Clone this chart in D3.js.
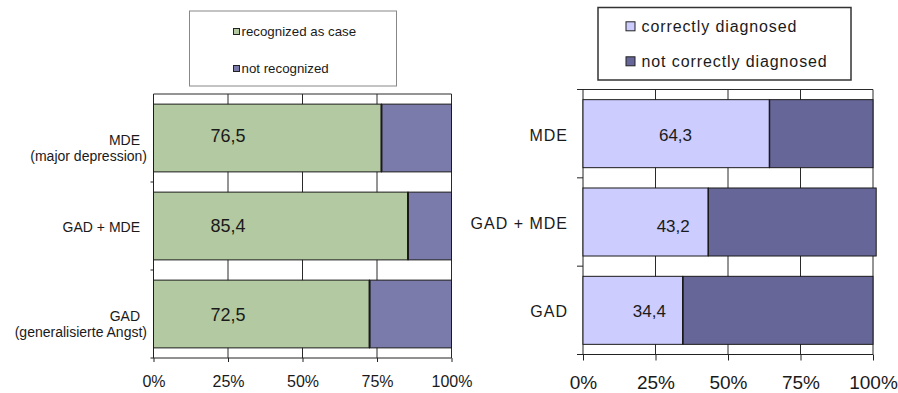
<!DOCTYPE html>
<html>
<head>
<meta charset="utf-8">
<script src="https://cdn.jsdelivr.net/npm/d3@7/dist/d3.min.js"></script>
<style>
  html, body { margin: 0; padding: 0; background: #fff; }
  svg { display: block; }
  text { font-family: "Liberation Sans", Arial, sans-serif; fill: #1a1a1a; }
</style>
</head>
<body>
<svg id="chart" width="898" height="393"></svg>
<script>
// ---- data ----
const leftCategories = [["MDE", "(major depression)"], ["GAD + MDE"], ["GAD", "(generalisierte Angst)"]];
const recognized = [76.5, 85.4, 72.5];
const notRecognized = [23.5, 14.6, 27.5];
const leftLegend = ["recognized as case", "not recognized"];

const rightCategories = [["MDE"], ["GAD + MDE"], ["GAD"]];
const correct = [64.3, 43.2, 34.4];
const notCorrect = [35.7, 57.9, 65.6];
const correctLabelAt = [31.9, 31.1, 22.9];
const rightLegend = ["correctly diagnosed", "not correctly diagnosed"];

const tickValues = [0, 25, 50, 75, 100];
const tickLabels = ["0%", "25%", "50%", "75%", "100%"];

const svg = d3.select("#chart");

function drawPanel(cfg) {
  const g = svg.append("g");
  const x = d3.scaleLinear().domain([0, 100]).range([cfg.x0, cfg.x1]);
  const keys = cfg.cats.map((c, i) => i);
  const y = d3.scaleBand().domain(keys).range([cfg.y0, cfg.y1])
    .paddingInner(0.23).paddingOuter(0.115);
  const step = y.step();

  // vertical gridlines (25..100) spanning the plot
  g.selectAll("line.grid").data(tickValues.slice(1)).join("line")
    .attr("x1", d => x(d)).attr("x2", d => x(d))
    .attr("y1", cfg.y0).attr("y2", cfg.y1)
    .attr("stroke", "#2a2a2a").attr("stroke-width", 1);
  // top border
  g.append("line").attr("x1", x(0) - cfg.topTick).attr("x2", x(100))
    .attr("y1", cfg.y0).attr("y2", cfg.y0).attr("stroke", "#2a2a2a");

  // x axis
  const xAxis = d3.axisBottom(x).tickValues(tickValues)
    .tickFormat((d, i) => tickLabels[i]).tickSize(cfg.xTick).tickSizeOuter(0);
  const ax = g.append("g").attr("transform", `translate(0,${cfg.y1})`).call(xAxis);
  ax.select(".domain").remove();
  ax.selectAll(".tick line").attr("stroke", "#222");
  ax.selectAll(".tick text").attr("y", cfg.xLabelY - cfg.y1)
    .attr("dy", "0.35em").attr("font-size", cfg.xFont).style("fill", "#1a1a1a")
    .attr("font-family", "Liberation Sans, Arial, sans-serif");
  g.append("line").attr("x1", x(0) - cfg.yTick).attr("x2", x(100))
    .attr("y1", cfg.y1).attr("y2", cfg.y1).attr("stroke", "#222");

  // y axis line + category boundary ticks
  g.append("line").attr("x1", x(0)).attr("x2", x(0))
    .attr("y1", cfg.y0).attr("y2", cfg.y1).attr("stroke", "#222");
  g.selectAll("line.ytick").data(d3.range(1, keys.length)).join("line")
    .attr("x1", x(0) - cfg.yTick).attr("x2", x(0))
    .attr("y1", i => cfg.y0 + i * step).attr("y2", i => cfg.y0 + i * step)
    .attr("stroke", "#222");

  // stacked bars
  const rows = keys.map(i => ({ i, a: cfg.a[i], b: cfg.b[i] }));
  g.selectAll("rect.b").data(rows).join("rect")
    .attr("x", d => x(d.a)).attr("width", d => x(d.a + d.b) - x(d.a))
    .attr("y", d => y(d.i)).attr("height", y.bandwidth())
    .attr("fill", cfg.colors[1]).attr("stroke", "#1a1a1a").attr("stroke-width", 1);
  g.selectAll("rect.a").data(rows).join("rect")
    .attr("x", x(0)).attr("width", d => x(d.a) - x(0))
    .attr("y", d => y(d.i)).attr("height", y.bandwidth())
    .attr("fill", cfg.colors[0]).attr("stroke", "#1a1a1a").attr("stroke-width", 1);
  // divider between the two segments
  g.selectAll("line.div").data(rows).join("line")
    .attr("x1", d => x(d.a)).attr("x2", d => x(d.a))
    .attr("y1", d => y(d.i)).attr("y2", d => y(d.i) + y.bandwidth())
    .attr("stroke", "#1a1a1a").attr("stroke-width", cfg.divW);

  // value labels
  g.selectAll("text.val").data(rows).join("text")
    .attr("x", d => x(cfg.labelAt[d.i]))
    .attr("y", d => y(d.i) + y.bandwidth() / 2 + cfg.valDy[d.i])
    .attr("dy", "0.35em").attr("text-anchor", "middle")
    .attr("font-size", cfg.valFont)
    .text(d => d3.format(".1f")(d.a).replace(".", ","));

  // category labels
  keys.forEach(i => {
    const lines = cfg.cats[i];
    const cy = y(i) + y.bandwidth() / 2;
    lines.forEach((ln, j) => {
      const yy = lines.length === 1 ? cy + cfg.catDy1 : cy + cfg.catDy2[j];
      g.append("text")
        .attr("x", j === 0 ? cfg.catX[0] : cfg.catX[1]).attr("y", yy)
        .attr("dy", "0.35em").attr("text-anchor", "end")
        .attr("font-size", cfg.catFont)
        .style("letter-spacing", cfg.catLs + "px")
        .text(ln);
    });
  });

  // legend
  const L = cfg.legend;
  g.append("rect").attr("x", L.x).attr("y", L.y).attr("width", L.w).attr("height", L.h)
    .attr("fill", "#fff").attr("stroke", L.stroke).attr("stroke-width", L.sw);
  cfg.legendLabels.forEach((t, k) => {
    g.append("rect").attr("x", L.sx).attr("y", L.rows[k] - L.ss / 2)
      .attr("width", L.ss).attr("height", L.ss)
      .attr("fill", cfg.colors[k]).attr("stroke", "#222").attr("stroke-width", 1);
    g.append("text").attr("x", L.tx).attr("y", L.rows[k]).attr("dy", "0.35em")
      .attr("font-size", L.font).style("letter-spacing", L.ls + "px").text(t);
  });
}

drawPanel({
  x0: 153.5, x1: 451.5, y0: 94, y1: 358,
  cats: leftCategories, a: recognized, b: notRecognized,
  colors: ["#b3c9a1", "#7a7aab"],
  labelAt: [25, 25, 25], valDy: [-2, 0, 1], valFont: 18,
  xTick: 4, yTick: 3, topTick: 0, xLabelY: 381, xFont: 16, divW: 2,
  catX: [140, 147], catFont: 14, catLs: 0, catDy1: 1, catDy2: [2, 18],
  legendLabels: leftLegend,
  legend: { x: 189.5, y: 11, w: 207, h: 75, stroke: "#888", sw: 1,
            sx: 233.5, ss: 6, tx: 241.5, rows: [31.5, 68.5], font: 13.3, ls: 0 }
});

drawPanel({
  x0: 583, x1: 873, y0: 89.5, y1: 354.5,
  cats: rightCategories, a: correct, b: notCorrect,
  colors: ["#ccccff", "#666699"],
  labelAt: correctLabelAt, valDy: [1, 4, 1], valFont: 17,
  xTick: 6, yTick: 6, topTick: 6, xLabelY: 382, xFont: 19, divW: 1.5,
  catX: [568, 568], catFont: 16, catLs: 1, catDy1: 1.5, catDy2: [0, 16],
  legendLabels: rightLegend,
  legend: { x: 598, y: 7.5, w: 253, h: 72.5, stroke: "#333", sw: 1.5,
            sx: 626, ss: 9, tx: 641.5, rows: [26.3, 61.3], font: 16, ls: 0.9 }
});
</script>
</body>
</html>
